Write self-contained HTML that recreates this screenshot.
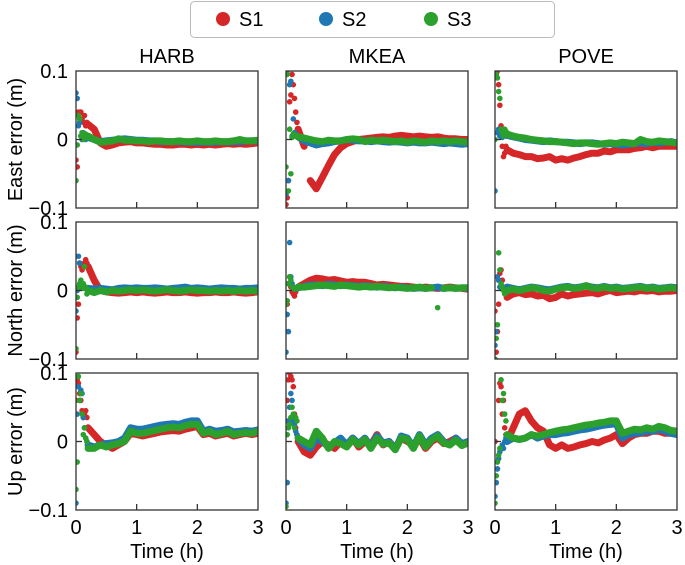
<!DOCTYPE html>
<html><head><meta charset="utf-8"><style>
body{margin:0;background:#fff;}
svg{display:block;font-family:"Liberation Sans",Arial,sans-serif;}
</style></head><body>
<svg id="chart" width="685" height="565" viewBox="0 0 685 565"></svg>
<script>
// shared time axis (h)
const times=[0,.02,.04,.06,.08,.1,.12,.14,.16,.18,.2,.3,.4,.5,.6,.7,.8,.9,1.0,1.1,1.2,1.3,1.4,1.5,1.6,1.7,1.8,1.9,2.0,2.1,2.2,2.3,2.4,2.5,2.6,2.7,2.8,2.9,3.0];
const stations=["HARB","MKEA","POVE"];
const components=["East error (m)","North error (m)","Up error (m)"];
const seriesNames=["S1","S2","S3"];
const xTicks=[0,1,2,3];
const yTickLabels=["0.1","0","\u22120.1"];
const yTickValues=[100,0,-100];
// values in mm
const harbE1=[-30,-40,40,38,40,30,25,35,20,25,22,15,-5,-10,-8,-5,-4,-3,-5,-5,-6,-7,-7,-8,-8,-7,-7,-8,-7,-8,-7,-8,-7,-6,-7,-6,-7,-6,-5];
const harbE2=[68,60,20,25,5,0,10,5,0,5,3,0,-3,-2,-1,0,1,0,-1,-1,-2,-2,-3,-3,-3,-3,-4,-4,-4,-4,-4,-4,-3,-4,-3,-3,-2,-2,-2];
const harbE3=[-60,-8,35,30,5,10,0,5,8,3,5,0,-4,-3,-2,1,-1,-1,-2,-2,-3,-2,-2,-3,-3,-2,-3,-3,-2,-3,-3,-2,-3,-3,-2,0,-2,-2,-1];
const mkeaE1=[-95,-85,-60,55,65,95,80,60,40,25,15,-10,-60,-72,-55,-38,-22,-12,-6,-3,0,1,2,3,4,3,5,6,5,4,5,4,3,4,2,1,1,0,0];
const mkeaE2=[-80,100,-60,80,85,5,30,10,8,5,4,-2,-5,-8,-6,-5,-3,-2,0,-1,-2,-2,-3,-2,-3,-4,-3,-4,-5,-4,-5,-5,-4,-5,-6,-5,-6,-7,-6];
const mkeaE3=[-40,95,-75,15,-50,3,8,5,6,5,4,2,0,-2,-3,-1,-2,-2,0,1,0,-3,-1,-2,-1,-2,-3,-2,-4,-2,-3,-4,-2,-3,-2,-3,-2,-3,-4];
const poveE1=[100,90,100,80,50,20,-10,-25,-20,-10,-15,-20,-22,-25,-25,-28,-27,-25,-30,-28,-30,-27,-25,-22,-20,-20,-17,-18,-15,-15,-15,-13,-12,-10,-12,-10,-10,-10,-10];
const poveE2=[-75,95,10,15,5,8,3,5,10,5,6,4,2,0,-1,-2,-3,-2,-3,-4,-4,-5,-6,-5,-5,-6,-7,-6,-7,-8,-7,-6,-5,-6,-4,-5,-4,-3,-5];
const poveE3=[0,95,90,70,60,15,10,5,15,12,8,5,3,2,0,-1,-2,-3,-3,-4,-5,-6,-5,-5,-6,-7,-6,-5,-6,-4,-5,-6,0,-3,-4,-2,-3,-4,-5];
const harbN1=[-90,-40,-20,40,35,30,35,40,45,40,35,15,0,-2,-3,-4,-3,-2,-3,-2,-3,-4,-3,-2,-3,-3,-2,-3,-4,-3,-3,-2,-3,-3,-2,-3,-4,-3,-2];
const harbN2=[-30,0,50,40,5,5,8,3,5,4,3,2,3,2,1,3,4,3,4,3,3,4,3,2,3,4,5,3,4,3,2,3,4,3,3,2,3,3,4];
const harbN3=[-85,-10,5,10,15,3,10,35,5,-5,0,-3,0,-2,0,-1,0,1,0,1,0,-1,0,1,0,-1,0,1,0,0,-1,0,-1,0,-1,0,-1,0,-1];
const mkeaN1=[-60,-20,10,20,5,-2,-5,-8,-2,3,5,10,15,18,17,15,16,14,12,13,12,12,10,8,9,8,7,6,6,5,4,5,4,3,4,5,4,3,2];
const mkeaN2=[-90,-35,-60,70,20,10,5,3,2,5,4,6,8,8,7,9,8,7,8,7,6,7,6,5,6,5,4,5,4,3,4,3,4,5,3,4,3,4,3];
const mkeaN3=[-20,-15,10,20,15,5,3,2,4,3,5,5,6,7,8,7,6,8,7,6,5,6,5,6,5,4,5,4,3,4,5,3,4,-25,3,4,3,4,4];
const poveN1=[-30,-90,-60,-20,25,30,15,5,0,-5,-10,-5,-3,-6,-5,-8,-7,-12,-10,-5,-8,-6,-5,-4,-3,-5,-2,0,-3,-2,-1,-2,0,-1,0,-2,-1,-1,0];
const poveN2=[-80,-60,20,15,5,3,5,4,3,4,5,3,1,3,5,4,2,1,3,5,6,4,5,7,5,4,6,4,5,3,4,5,6,4,5,3,4,5,4];
const poveN3=[-100,-70,-50,55,30,10,5,0,-5,-3,0,2,0,2,4,3,0,-1,2,4,5,3,4,7,4,3,5,3,4,2,3,4,5,3,4,2,3,4,3];
const harbU1=[60,90,85,70,60,45,35,40,45,35,20,10,0,-5,-10,-5,0,12,10,8,10,12,14,15,16,15,18,20,22,10,12,8,10,12,8,10,12,10,12];
const harbU2=[-90,40,80,60,75,70,35,20,5,0,-5,-8,-5,-3,-2,0,5,20,18,18,20,22,24,25,26,25,28,30,30,15,18,15,16,18,14,15,16,15,17];
const harbU3=[-70,-30,95,60,70,40,10,20,5,0,-10,-10,-5,-8,-5,-3,0,15,12,12,14,16,18,20,21,20,23,25,25,12,15,10,12,15,10,12,13,12,15];
const mkeaU1=[30,60,90,100,95,90,80,40,20,10,0,-15,-20,-8,0,-5,-10,0,-5,5,-8,0,-5,10,-5,0,-10,5,0,-5,5,-10,0,5,-3,0,5,-5,0];
const mkeaU2=[-90,-60,30,50,70,60,30,25,15,10,5,-5,-10,5,0,-8,-2,5,-5,5,-3,5,-8,8,-2,0,-12,8,5,-8,10,-5,5,10,0,-5,5,-3,0];
const mkeaU3=[-95,10,20,25,35,50,40,20,35,30,5,0,-5,15,5,-10,0,-3,-8,3,-5,3,-10,5,-4,-2,-12,5,3,-10,8,-8,2,8,-2,-5,2,-6,-2];
const poveU1=[0,-60,-40,60,85,80,40,60,20,10,0,20,40,45,30,20,15,-5,-10,-5,-10,-8,-5,-3,0,-2,2,5,10,-3,5,10,12,12,15,15,12,12,12];
const poveU2=[-80,-60,-40,-25,-15,-10,-5,-10,0,5,0,5,3,5,10,5,8,10,10,12,13,15,17,18,20,22,24,25,26,5,10,12,13,15,15,18,15,12,10];
const poveU3=[-90,-50,-30,-20,-10,90,60,70,40,30,10,5,3,5,10,8,10,13,15,17,18,20,22,24,25,27,28,30,30,12,15,18,17,20,18,22,20,16,15];

const panels=[[[harbE1,harbE2,harbE3],[mkeaE1,mkeaE2,mkeaE3],[poveE1,poveE2,poveE3]],
[[harbN1,harbN2,harbN3],[mkeaN1,mkeaN2,mkeaN3],[poveN1,poveN2,poveN3]],
[[harbU1,harbU2,harbU3],[mkeaU1,mkeaU2,mkeaU3],[poveU1,poveU2,poveU3]]];
const colors=["#d62728","#1f77b4","#2ca02c"];
const colX=[76,286,495], rowY=[71,222,373], PW=182, PH=137;
const svg=document.getElementById('chart');
const NS="http://www.w3.org/2000/svg";
function mk(tag,attrs,parent){const e=document.createElementNS(NS,tag);for(const k in attrs)e.setAttribute(k,attrs[k]);(parent||svg).appendChild(e);return e;}
function xs(c,t){return colX[c]+t/3*PW;}
function ys(r,v){return rowY[r]+PH/2-v/200*PH;}

// legend
const lg=mk('g',{});


const lb=mk('rect',{x:190.5,y:1.5,width:364,height:36,rx:4,fill:'#fff',stroke:'#bbb','stroke-width':1},lg);


const legX=[223,326,431];
seriesNames.forEach((n,i)=>{
  const g=mk('g',{},lg);
  
  
  mk('circle',{cx:legX[i],cy:19,r:7,fill:colors[i]},g);
  const t=mk('text',{x:legX[i]+16,y:26,'font-size':20,fill:'#000'},g);t.textContent=n;
});

// panels
for(let r=0;r<3;r++){
  for(let c=0;c<3;c++){
    const g=mk('g',{});
    
    
    const cp='clip'+r+c;
    const cl=mk('clipPath',{id:cp},g);mk('rect',{x:colX[c],y:rowY[r],width:PW,height:PH},cl);
    const dg=mk('g',{'clip-path':'url(#'+cp+')'},g);
    panels[r][c].forEach((vals,s)=>{
      const sg=mk('g',{},dg);
      
      
      let d='';
      for(let i=10;i<vals.length;i++){
        const x=xs(c,times[i]),y=ys(r,vals[i]);
        const jump=i>10&&Math.abs(vals[i]-vals[i-1])>25;
        d+=(i===10||jump?'M':'L')+x.toFixed(1)+' '+y.toFixed(1);
      }
      mk('path',{d:d,fill:'none',stroke:colors[s],'stroke-width':7,'stroke-linejoin':'round','stroke-linecap':'round'},sg);
      for(let i=0;i<vals.length&&i<times.length;i++){
        mk('circle',{cx:xs(c,times[i]),cy:ys(r,vals[i]),r:2.8,fill:colors[s]},sg);
      }
    });
    const fr=mk('rect',{x:colX[c],y:rowY[r],width:PW,height:PH,fill:'none',stroke:'#333','stroke-width':1.3},g);
    
    
    [1,2].forEach(t=>mk('line',{x1:xs(c,t),x2:xs(c,t),y1:rowY[r]+PH,y2:rowY[r]+PH-6,stroke:'#333','stroke-width':1.3},g));
    mk('line',{x1:colX[c],x2:colX[c]+6,y1:ys(r,0),y2:ys(r,0),stroke:'#333','stroke-width':1.3},g);
    if(c===0){
      yTickValues.forEach((v,k)=>{
        const t=mk('text',{x:68,y:ys(r,v)+7,'font-size':20,'text-anchor':'end',fill:'#000'},g);
        t.textContent=yTickLabels[k];
        
        
      });
      const yt=mk('text',{x:0,y:0,'font-size':20,'text-anchor':'middle',fill:'#000',transform:'translate(22,'+(rowY[r]+PH/2)+') rotate(-90)'},g);
      yt.textContent=components[r];
      
      
    }
    if(r===0){
      const tt=mk('text',{x:colX[c]+PW/2,y:63,'font-size':20,'text-anchor':'middle',fill:'#000'},g);
      tt.textContent=stations[c];
      
      
    }
    if(r===2){
      xTicks.forEach(t=>{
        const tx=mk('text',{x:xs(c,t),y:534,'font-size':20,'text-anchor':'middle',fill:'#000'},g);
        tx.textContent=String(t);
        
        
      });
      const xt=mk('text',{x:colX[c]+PW/2,y:558,'font-size':20,'text-anchor':'middle',fill:'#000'},g);
      xt.textContent='Time (h)';
      
      
    }
  }
}
</script>
</body></html>
